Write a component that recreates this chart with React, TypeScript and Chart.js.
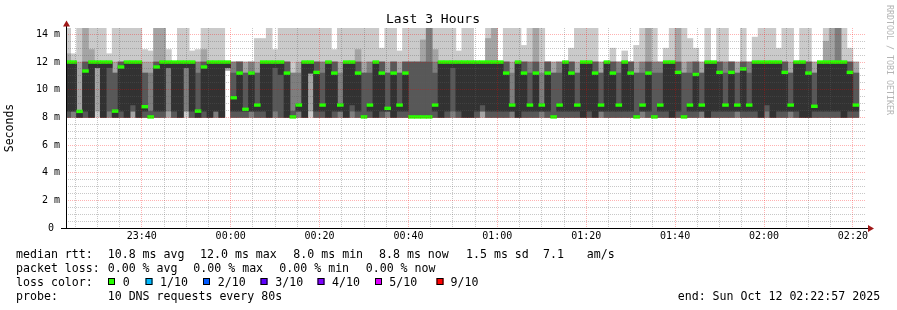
import React, { useEffect, useRef } from 'react';
import { Chart, registerables } from 'chart.js';

Chart.register(...registerables);

const MONO = '"DejaVu Sans Mono", monospace';

// ---- time axis (minutes relative to 00:00) ----
const viewStart = -37.05; // 23:22:57
const viewEnd = 142.95; // 02:22:57
const stepMinutes = 80 / 60; // one probe round every 80 s
const lastStepEnd = 141 + 20 / 60; // 02:21:20

const xLabelMinutes = [-20, 0, 20, 40, 60, 80, 100, 120, 140];
const xLabels = ['23:40', '00:00', '00:20', '00:40', '01:00', '01:20', '01:40', '02:00', '02:20'];
const yLabelValues = [0, 2, 4, 6, 8, 10, 12, 14];
const yLabels = ['0 ', '2 m', '4 m', '6 m', '8 m', '10 m', '12 m', '14 m'];

// ---- median rtt per step (ms) ----
const medians = [
  12, 12, 8.43, 11.35, 12, 12, 12, 12, 8.45, 11.64,
  12, 12, 12, 8.77, 8.03, 11.64, 12, 12, 12, 12,
  12, 12, 8.45, 11.64, 12, 12, 12, 12, 9.42, 11.2,
  8.58, 11.2, 8.89, 12, 12, 12, 12, 11.2, 8.03, 8.89,
  12, 12, 11.25, 8.89, 12, 11.2, 8.89, 12, 12, 11.2,
  8.03, 8.89, 12, 11.2, 8.65, 11.2, 8.89, 11.2, 8.03, 8.03,
  8.03, 8.03, 8.89, 12, 12, 12, 12, 12, 12, 12,
  12, 12, 12, 12, 11.2, 8.89, 12, 11.2, 8.89, 11.2,
  8.89, 11.2, 8.03, 8.89, 12, 11.2, 8.89, 12, 12, 11.2,
  8.89, 12, 11.2, 8.89, 12, 11.2, 8.03, 8.89, 11.2, 8.03,
  8.89, 12, 12, 11.25, 8.03, 8.89, 11.1, 8.89, 12, 12,
  11.25, 8.89, 11.25, 8.89, 11.5, 8.89, 12, 12, 12, 12,
  12, 11.25, 8.89, 12, 12, 11.2, 8.8, 12, 12, 12,
  12, 12, 11.25, 8.89,
];

// ---- the 10 sorted ping times of every step (ms) ----
const pings = [
  [8, 8, 8, 8, 8.45, 12, 12, 12, 12.6, 14.6],
  [8, 8, 8, 8.45, 8.45, 12, 12, 12, 12, 12.6],
  [8, 8, 8, 8, 8, 8.43, 8.45, 8.45, 12, 14.6],
  [8, 8, 8, 8, 8.45, 11.35, 12, 12, 14.6, 14.6],
  [8, 8, 8, 8, 8, 12, 12, 12, 12.9, 14.6],
  [8, 8.45, 11.6, 11.6, 11.6, 12, 12, 12, 12, 14.6],
  [8, 8, 8, 8, 8, 12, 12, 12, 12, 14.6],
  [8, 8, 8, 8.45, 11.6, 12, 12, 12, 12, 12.6],
  [8, 8, 8, 8, 8, 8.45, 11.2, 11.2, 12, 14.6],
  [8, 8, 8, 8, 8.45, 11.64, 12, 12, 12, 14.6],
  [8, 8, 8, 8, 8, 12, 12, 12, 12, 14.6],
  [8, 8, 8.45, 8.45, 8.9, 12, 12, 12, 12, 14.6],
  [8, 8, 8, 8, 8, 12, 12, 12, 12, 14.6],
  [8, 8, 8, 8, 8.45, 8.77, 11.2, 11.2, 12, 12.9],
  [8, 8, 8, 8, 8, 8.03, 8.45, 11.2, 12, 12.8],
  [8, 8, 8, 8, 8.45, 11.64, 12, 12, 14.6, 14.6],
  [8, 8, 8, 8, 8.45, 12, 12, 12, 14.6, 14.6],
  [8, 8, 8.45, 11.6, 11.6, 12, 12, 12, 12, 12.9],
  [8, 8, 8, 8, 8.45, 12, 12, 12, 12, 12],
  [8, 8, 8, 8, 8, 12, 12, 12, 12, 14.6],
  [8, 8.45, 8.45, 11.6, 11.6, 12, 12, 12, 12, 14.6],
  [8, 8, 8, 8, 8.45, 12, 12, 12, 12, 12.8],
  [8, 8, 8, 8, 8, 8.45, 11.2, 12, 12, 12.9],
  [8, 8, 8, 8, 8.45, 11.64, 12, 12, 12.9, 14.6],
  [8, 8, 8, 8, 8, 12, 12, 12, 12, 14.6],
  [8, 8, 8, 8.45, 8.45, 12, 12, 12, 12, 14.6],
  [8, 8, 8, 8, 8, 12, 12, 12, 12, 14.6],
  [11.4, 11.4, 11.6, 11.6, 11.6, 12, 12, 12, 12, 12],
  [8, 8, 8, 8, 8.45, 9.42, 11.2, 12, 12, 12],
  [8, 8, 8, 8, 8.45, 11.2, 12, 12, 12, 12],
  [8, 8, 8, 8, 8.45, 8.58, 11.2, 11.2, 12, 12],
  [8, 8, 8, 8.45, 8.45, 11.2, 11.2, 12, 12, 12],
  [8, 8, 8, 8, 8.45, 8.89, 11.2, 11.2, 12, 13.7],
  [8, 8, 8, 8, 8.45, 12, 12, 12, 12, 13.7],
  [8, 8, 8, 8, 8, 12, 12, 12, 12, 14.6],
  [8, 8, 8, 8.45, 11.6, 12, 12, 12, 12, 12.9],
  [8, 8, 8, 8, 11.1, 12, 12, 12, 12, 14.6],
  [8, 8, 8, 8, 8, 11.2, 12, 12, 12, 14.6],
  [8, 8, 8, 8, 8, 8.03, 8.45, 11.2, 11.2, 14.6],
  [8, 8, 8, 8.45, 8.45, 8.89, 8.9, 11.2, 12, 14.6],
  [8, 8, 8, 8, 8, 12, 12, 12, 12, 14.6],
  [8, 8.45, 11.2, 11.2, 11.2, 12, 12, 12, 12, 14.6],
  [8, 8, 8, 8, 8.45, 11.25, 12, 12, 12, 14.6],
  [8, 8, 8, 8, 8.45, 8.89, 11.2, 12, 12, 14.6],
  [8, 8, 8, 8, 8, 12, 12, 12, 12, 14.6],
  [8, 8, 8, 8, 8.45, 11.2, 12, 12, 12, 12.9],
  [8, 8, 8, 8.45, 8.45, 8.89, 8.9, 11.2, 12, 14.6],
  [8, 8, 8, 8, 8, 12, 12, 12, 12, 14.6],
  [8, 8, 8, 8.45, 8.9, 12, 12, 12, 12, 14.6],
  [8, 8, 8, 8, 8.45, 11.2, 12, 12, 12.9, 14.6],
  [8, 8, 8, 8, 8, 8.03, 11.2, 11.2, 12, 14.6],
  [8, 8, 8, 8, 8.45, 8.89, 11.2, 12, 12, 14.6],
  [8, 8, 8, 8, 8, 12, 12, 12, 12, 14.6],
  [8, 8, 8, 8, 8.45, 11.2, 12, 12, 12, 13],
  [8, 8, 8, 8.45, 8.45, 8.65, 11.2, 11.2, 12, 14.6],
  [8, 8, 8, 8, 8, 11.2, 12, 12, 12, 14.6],
  [8, 8, 8, 8, 8.45, 8.89, 11.2, 11.2, 12, 12.8],
  [8, 8, 8, 8, 8.45, 11.2, 12, 12, 12, 14.6],
  [8, 8, 8, 8, 8, 8.03, 12, 12, 12, 14.6],
  [8, 8, 8, 8, 8, 8.03, 12, 12, 12, 14.6],
  [8, 8, 8, 8, 8, 8.03, 12, 12, 13.6, 14.6],
  [8, 8, 8, 8, 8, 8.03, 12, 14.6, 14.6, 14.6],
  [8, 8, 8, 8, 8.45, 8.89, 11.2, 12, 12.9, 14.6],
  [8, 8, 8, 8, 8, 12, 12, 12, 12, 14.6],
  [8, 8, 8, 8, 8.45, 12, 12, 12, 12, 14.6],
  [8, 8, 8, 8.45, 11.6, 12, 12, 12, 12, 14.6],
  [8, 8, 8, 8, 8.45, 12, 12, 12, 12, 12.8],
  [8, 8, 8, 8, 8, 12, 12, 12, 12, 14.6],
  [8, 8, 8, 8, 8, 12, 12, 12, 12, 14.6],
  [8, 8, 8, 8, 8.45, 12, 12, 12, 12, 12],
  [8, 8, 8.45, 8.45, 8.9, 12, 12, 12, 12, 12],
  [8, 8, 8, 8, 8.45, 12, 12, 12, 13.7, 14.6],
  [8, 8, 8, 8, 8.45, 12, 12, 12, 14.6, 14.6],
  [8, 8, 8, 8, 8.45, 12, 12, 12, 12, 12],
  [8, 8, 8, 8, 8.45, 11.2, 12, 12, 12, 14.6],
  [8, 8, 8, 8.45, 8.45, 8.89, 8.9, 11.2, 12, 14.6],
  [8, 8, 8, 8, 8, 12, 12, 12, 12, 14.6],
  [8, 8, 8, 8, 8.45, 11.2, 12, 12, 12, 13.2],
  [8, 8, 8, 8, 8.45, 8.89, 11.2, 12, 12, 14.6],
  [8, 8, 8, 8, 8.45, 11.2, 12, 12, 14.6, 14.6],
  [8, 8, 8, 8.45, 8.45, 8.89, 8.9, 11.2, 12, 14.6],
  [8, 8, 8, 8, 8.45, 11.2, 12, 12, 12, 12],
  [8, 8, 8, 8, 8, 8.03, 11.2, 11.2, 12, 12],
  [8, 8, 8, 8, 8.45, 8.89, 11.2, 12, 12, 12],
  [8, 8, 8, 8, 8.45, 12, 12, 12, 12, 12],
  [8, 8, 8, 8, 8.45, 11.2, 12, 12, 12, 13],
  [8, 8, 8, 8, 8.45, 8.89, 11.2, 11.2, 12, 14.6],
  [8, 8, 8, 8, 8, 12, 12, 12, 12, 14.6],
  [8, 8, 8, 8, 8.45, 12, 12, 12, 12, 14.6],
  [8, 8, 8, 8, 8, 11.2, 12, 12, 12, 14.6],
  [8, 8, 8, 8.45, 8.45, 8.89, 11.2, 11.2, 12, 12],
  [8, 8, 8, 8, 8.45, 12, 12, 12, 12, 12],
  [8, 8, 8, 8, 8.45, 11.2, 12, 12, 12, 13],
  [8, 8, 8, 8, 8.45, 8.89, 11.2, 12, 12, 12],
  [8, 8, 8, 8, 8.45, 12, 12, 12, 12, 12.8],
  [8, 8, 8, 8, 8.45, 11.2, 12, 12, 12, 12],
  [8, 8, 8, 8, 8, 8.03, 11.2, 11.2, 12, 13.2],
  [8, 8, 8, 8.45, 8.45, 8.89, 11.2, 12, 12, 14.6],
  [8, 8, 8, 8, 8.45, 11.2, 12, 12, 14.6, 14.6],
  [8, 8, 8, 8, 8, 8.03, 11.2, 12, 12, 14.6],
  [8, 8, 8, 8, 8.45, 8.89, 11.2, 12, 12, 12],
  [8, 8, 8, 8, 8.45, 12, 12, 12, 12, 13],
  [8, 8, 8, 8, 8, 12, 12, 12, 12, 14.6],
  [8, 8, 8, 8, 8.45, 11.25, 12, 12, 14.6, 14.6],
  [8, 8, 8, 8, 8, 8.03, 11.2, 11.2, 12, 14.6],
  [8, 8, 8, 8, 8.45, 8.89, 11.2, 12, 12, 13.7],
  [8, 8, 8, 8, 8.45, 11.1, 12, 12, 12, 13],
  [8, 8, 8, 8.45, 8.45, 8.89, 11.2, 11.2, 12, 12],
  [8, 8, 8, 8, 8, 12, 12, 12, 12, 14.6],
  [8, 8, 8, 8, 8.45, 12, 12, 12, 12, 12],
  [8, 8, 8, 8, 8.45, 11.25, 12, 12, 12, 14.6],
  [8, 8, 8, 8, 8.45, 8.89, 11.2, 12, 12, 14.6],
  [8, 8, 8, 8, 8.45, 11.25, 12, 12, 12, 12],
  [8, 8, 8, 8.45, 8.45, 8.89, 11.2, 11.2, 12, 12],
  [8, 8, 8, 8, 8.45, 11.5, 12, 12, 12, 14.6],
  [8, 8, 8, 8, 8.45, 8.89, 11.2, 12, 12, 12],
  [8, 8, 8, 8, 8.45, 12, 12, 12, 12, 13.8],
  [8, 8, 8, 8, 8, 12, 12, 12, 12, 14.6],
  [8, 8, 8, 8.45, 8.9, 12, 12, 12, 12, 14.6],
  [8, 8, 8, 8, 8, 12, 12, 12, 12, 14.6],
  [8, 8, 8, 8, 8.45, 12, 12, 12, 12, 13],
  [8, 8, 8, 8, 8.45, 11.25, 12, 12, 12, 14.6],
  [8, 8, 8, 8.45, 8.45, 8.89, 11.2, 11.2, 12, 14.6],
  [8, 8, 8, 8, 8.45, 12, 12, 12, 12, 12],
  [8, 8, 8, 8, 8, 12, 12, 12, 12, 14.6],
  [8, 8, 8, 8, 8, 11.2, 12, 12, 12, 14.6],
  [8, 8, 8, 8, 8.45, 8.8, 11.2, 11.2, 12, 12],
  [8, 8, 8, 8, 8.45, 12, 12, 12, 12, 12],
  [8, 8, 8, 8, 8.45, 12, 12, 12, 13.5, 14.6],
  [8, 8, 8, 8, 8.45, 12, 12, 12, 14.6, 14.6],
  [8, 8, 8, 8, 8.45, 12, 12, 14.6, 14.6, 14.6],
  [8, 8, 8, 8, 8, 12, 12, 12, 12, 14.6],
  [8, 8, 8, 8, 8.45, 11.25, 12, 12, 12, 13],
  [8, 8, 8, 8, 8.45, 8.89, 11.2, 11.2, 12, 12],
];

// ---- legend content ----
const lossColors = ['#26ff00', '#00b8ff', '#0059ff', '#5e00ff', '#7e00ff', '#dd00ff', '#ff0000'];
const lossLabels = ['0', '1/10', '2/10', '3/10', '4/10', '5/10', '9/10'];
const rttLegend = ['median rtt:', '10.8 ms avg', '12.0 ms max', '8.0 ms min', '8.8 ms now', '1.5 ms sd', '7.1', 'am/s'];
const lossLegend = ['packet loss:', '0.00 % avg', '0.00 % max', '0.00 % min', '0.00 % now'];
const probeLegend = ['probe:', '10 DNS requests every 80s'];
const endLabel = 'end: Sun Oct 12 02:22:57 2025';
const titleText = 'Last 3 Hours';
const yTitle = 'Seconds';
const watermark = 'RRDTOOL / TOBI OETIKER';

// ---- layout (pixels) ----
const rttX = [16, 107.7, 200, 293.3, 379, 466, 543, 586.7];
const lossX = [16, 107.7, 193.3, 279.3, 365.7];
const boxX = [108, 145.5, 203, 260.5, 317.5, 375, 436.5];
const boxLabelX = [122.7, 160, 217.7, 275.3, 332, 389.3, 450.5];
const lineBase = [258, 272, 286, 300];

const smokeShades = ['#cacaca', '#a4a4a4', '#7e7e7e', '#585858', '#323232'];
const MINOR = 'rgba(95,95,95,0.34)';
const MAJOR = 'rgba(255,0,0,0.3)';

export default function App() {
  const ref = useRef<HTMLCanvasElement | null>(null);

  useEffect(() => {
    document.body.style.margin = '0';
    const n = Math.min(pings.length, medians.length);
    const xOf = (k: number) => lastStepEnd - (n - 1 - k) * stepMinutes - stepMinutes / 2;

    const smoke = smokeShades.map((color, i) => ({
      type: 'bar' as const,
      label: 'smoke' + i,
      data: pings.slice(0, n).map((p, k) => ({ x: xOf(k), y: [p[i], p[9 - i]] })),
      backgroundColor: color,
      borderWidth: 0,
      grouped: false,
      barPercentage: 1,
      categoryPercentage: 1,
      order: 10 - i,
    }));
    const med = {
      type: 'bar' as const,
      label: 'median',
      data: medians.slice(0, n).map((m, k) => ({ x: xOf(k), y: [m - 0.1, m + 0.1] })),
      backgroundColor: lossColors[0],
      borderWidth: 0,
      grouped: false,
      barPercentage: 1,
      categoryPercentage: 1,
      order: 0,
    };

    const xGrid: number[] = [];
    for (let v = -35; v <= 140; v += 5) xGrid.push(v);
    const yGrid: number[] = [];
    for (let v = 0; v <= 14; v += 0.5) yGrid.push(v);

    const decor = {
      id: 'decor',
      afterDraw(chart: any) {
        const ctx = chart.ctx as CanvasRenderingContext2D;
        const { left, right, top, bottom } = chart.chartArea;
        ctx.save();
        // axes
        ctx.fillStyle = '#000';
        ctx.fillRect(left - 5, bottom, right - left + 8, 1);
        ctx.fillRect(left, top - 3, 1, bottom - top + 4);
        // arrows
        ctx.fillStyle = '#a01818';
        ctx.beginPath();
        ctx.moveTo(left - 3, top - 1.5);
        ctx.lineTo(left + 4, top - 1.5);
        ctx.lineTo(left + 0.5, top - 7.5);
        ctx.closePath();
        ctx.fill();
        ctx.beginPath();
        ctx.moveTo(right + 2, bottom - 3);
        ctx.lineTo(right + 2, bottom + 4);
        ctx.lineTo(right + 8, bottom + 0.5);
        ctx.closePath();
        ctx.fill();
        // watermark
        ctx.save();
        ctx.translate(885.5, 5);
        ctx.rotate(Math.PI / 2);
        ctx.font = `8.3px ${MONO}`;
        ctx.fillStyle = '#b4b4b4';
        ctx.textBaseline = 'bottom';
        ctx.textAlign = 'left';
        ctx.fillText(watermark, 0, 0);
        ctx.restore();
        // legend
        ctx.font = `11.6px ${MONO}`;
        ctx.fillStyle = '#000';
        ctx.textBaseline = 'alphabetic';
        ctx.textAlign = 'left';
        rttLegend.forEach((t, i) => ctx.fillText(t, rttX[i], lineBase[0]));
        lossLegend.forEach((t, i) => ctx.fillText(t, lossX[i], lineBase[1]));
        ctx.fillText('loss color:', 16, lineBase[2]);
        lossLabels.forEach((t, i) => {
          ctx.fillStyle = lossColors[i];
          ctx.fillRect(boxX[i], lineBase[2] - 8, 7, 7);
          ctx.strokeStyle = '#000';
          ctx.lineWidth = 1;
          ctx.strokeRect(boxX[i] + 0.5, lineBase[2] - 7.5, 6, 6);
          ctx.fillStyle = '#000';
          ctx.fillText(t, boxLabelX[i], lineBase[2]);
        });
        ctx.fillText(probeLegend[0], 16, lineBase[3]);
        ctx.fillText(probeLegend[1], 107.7, lineBase[3]);
        ctx.fillText(endLabel, 677.7, lineBase[3]);
        ctx.restore();
      },
    };

    const fmtX = (v: number) => {
      const i = xLabelMinutes.indexOf(v);
      return i >= 0 ? xLabels[i] : '';
    };
    const fmtY = (v: number) => {
      const i = yLabelValues.indexOf(v);
      return i >= 0 ? yLabels[i] : '';
    };

    const chart = new Chart(ref.current as HTMLCanvasElement, {
      type: 'bar',
      data: { datasets: [med, ...smoke] as any },
      options: {
        responsive: false,
        animation: false,
        devicePixelRatio: 1,
        layout: { padding: { left: 0, right: 31, top: 0, bottom: 0 } },
        plugins: {
          legend: { display: false },
          tooltip: { enabled: false },
          title: {
            display: true,
            text: titleText,
            color: '#000',
            font: { family: MONO, size: 13, lineHeight: 1.2, weight: 'normal' },
            padding: { top: 12.2, bottom: 0.2 },
          },
        },
        scales: {
          x: {
            type: 'linear',
            min: viewStart,
            max: viewEnd,
            offset: false,
            bounds: 'data',
            grid: {
              offset: false,
              drawTicks: false,
              lineWidth: 1,
              z: 1,
              color: (c: any) => (c.tick && c.tick.value % 20 === 0 ? MAJOR : MINOR),
            },
            border: { display: false, dash: [1, 1] },
            ticks: {
              autoSkip: false,
              maxRotation: 0,
              minRotation: 0,
              padding: 2,
              color: '#000',
              font: { family: MONO, size: 10, lineHeight: 1.2 },
              callback: (v: any) => fmtX(Number(v)),
            },
            afterBuildTicks: (s: any) => {
              s.ticks = xGrid.map((v) => ({ value: v }));
            },
            afterFit: (s: any) => {
              s.height = 82;
            },
          },
          y: {
            type: 'linear',
            min: 0,
            max: 14.46,
            bounds: 'data',
            grid: {
              drawTicks: false,
              lineWidth: 1,
              z: 1,
              color: (c: any) => (c.tick && c.tick.value % 2 === 0 ? MAJOR : MINOR),
            },
            border: { display: false, dash: [1, 1] },
            title: {
              display: true,
              text: yTitle,
              color: '#000',
              font: { family: MONO, size: 11.5, lineHeight: 1.2 },
              padding: { top: 3, bottom: 0 },
            },
            ticks: {
              autoSkip: false,
              padding: 6,
              color: '#000',
              font: { family: MONO, size: 10, lineHeight: 1.2 },
              callback: (v: any) => fmtY(Number(v)),
            },
            afterBuildTicks: (s: any) => {
              s.ticks = yGrid.map((v) => ({ value: v }));
            },
            afterFit: (s: any) => {
              s.width = 66;
            },
          },
        },
      } as any,
      plugins: [decor],
    });
    return () => chart.destroy();
  }, []);

  return (
    <div style={{ position: 'absolute', left: 0, top: 0, width: 897, height: 310, background: '#fff' }}>
      <canvas ref={ref} width={897} height={310} style={{ display: 'block', width: 897, height: 310 }} />
    </div>
  );
}
